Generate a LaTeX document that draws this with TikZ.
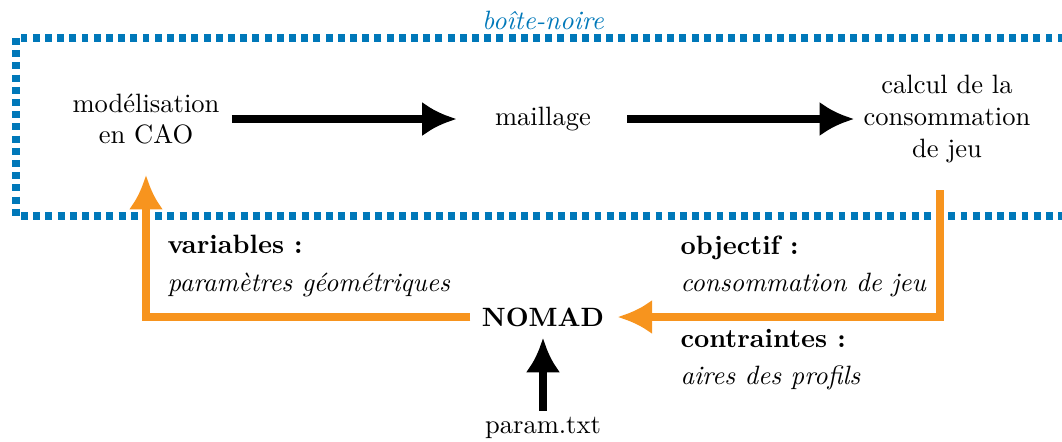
\documentclass[tikz,border=0pt]{standalone}
\usetikzlibrary{arrows.meta}
\definecolor{bbleu}{RGB}{0,120,185}
\definecolor{orng}{RGB}{247,148,30}
\begin{document}
\begin{tikzpicture}[x=0.377pt,y=-0.377pt,
  txt/.style={inner sep=0pt},
  blk/.style={draw=black, line width=2.9pt, -{Latex[length=13pt,width=13pt]}},
  org/.style={draw=orng, line width=2.8pt, -{Latex[length=13pt,width=13pt]}},
  bord/.style={draw=bbleu, line width=2.7pt, dash pattern=on 2.6pt off 2.0pt}]
\useasboundingbox (0,0) rectangle (1062,441);
\draw[bord] (16,38) rectangle (1070,216);
\node[txt, text=bbleu, font=\itshape] (bn) at (543,20) {boîte-noire};
\node[txt, align=center] (cao) at (146,119) {modélisation\\en CAO};
\node[txt] (mail) at (543,119) {maillage};
\node[txt, align=center] (calc) at (947,119) {calcul de la\\consommation\\de jeu};
\node[txt, font=\bfseries] (nomad) at (543,317) {NOMAD};
\node[txt] (param) at (543,428) {param.txt};
\coordinate (ostart) at (940,190);
\node[txt, anchor=west, align=left] (var) at (167,266) {\textbf{variables :}\\[2pt]\textit{paramètres géométriques}};
\node[txt, anchor=west, align=left] (obj) at (680,266) {\textbf{objectif :}\\[2pt]\textit{consommation de jeu}};
\node[txt, anchor=west, align=left] (con) at (680,360) {\textbf{contraintes :}\\[2pt]\textit{aires des profils}};
\draw[blk, shorten <=4.5pt, shorten >=14.3pt] (cao.east) -- (mail.west);
\draw[blk, shorten <=13.6pt, shorten >=3.4pt] (mail.east) -- (calc.west);
\draw[org, shorten >=4.9pt] (ostart) |- (nomad.east);
\draw[org, shorten <=4.1pt, shorten >=11.3pt] (nomad.west) -| (cao.south);
\draw[blk, shorten <=2.3pt, shorten >=4.1pt] (param.north) -- (nomad.south);
\end{tikzpicture}
\end{document}
